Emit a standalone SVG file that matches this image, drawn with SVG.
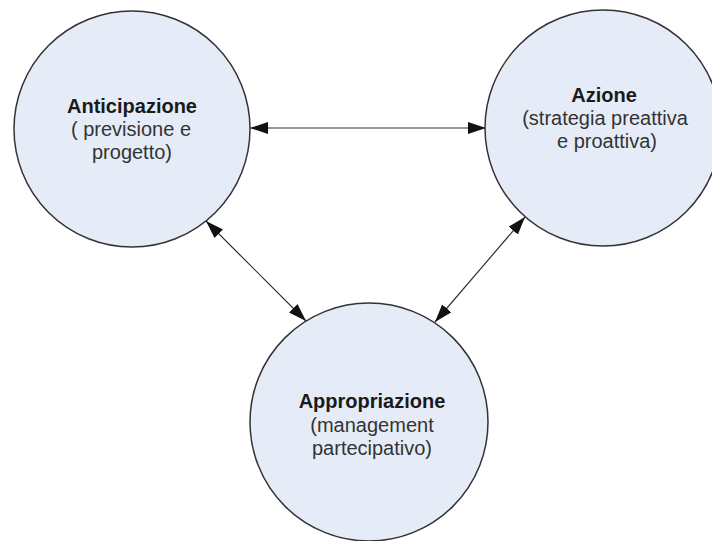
<svg xmlns="http://www.w3.org/2000/svg" width="712" height="541" viewBox="0 0 712 541">
<defs>
<style>
.node{fill:#E6ECF7;stroke:#333;stroke-width:1.5}
.t{font-family:"Liberation Sans",Arial,sans-serif;font-size:20px;text-anchor:middle;fill:#333}
.b{font-weight:bold;fill:#1a1a1a}
.c{stroke:#333;stroke-width:1.2;fill:none;marker-start:url(#ah);marker-end:url(#ah)}
</style>
<marker id="ah" markerUnits="userSpaceOnUse" viewBox="0 0 18 12" markerWidth="18" markerHeight="12" refX="18" refY="6" orient="auto-start-reverse">
<path d="M0,0 L18,6 L0,12 z" fill="#111"/>
</marker>
</defs>
<rect width="712" height="541" fill="#fff"/>
<g id="connectors">
<line class="c" x1="250" y1="128" x2="486" y2="128"/>
<line class="c" x1="206" y1="221" x2="306" y2="321"/>
<line class="c" x1="525" y1="217" x2="435" y2="322"/>
</g>
<g id="anticipazione">
<circle class="node" cx="132" cy="129" r="118"/>
<text class="t b" x="132" y="113">Anticipazione</text>
<text class="t" x="131" y="136">( previsione e</text>
<text class="t" x="132" y="159">progetto)</text>
</g>
<g id="azione">
<circle class="node" cx="603" cy="128" r="118"/>
<text class="t b" x="604" y="102">Azione</text>
<text class="t" x="605" y="125">(strategia preattiva</text>
<text class="t" x="607" y="148">e proattiva)</text>
</g>
<g id="appropriazione">
<circle class="node" cx="369" cy="422" r="119"/>
<text class="t b" x="372" y="408">Appropriazione</text>
<text class="t" x="372" y="432">(management</text>
<text class="t" x="372" y="455">partecipativo)</text>
</g>
</svg>
